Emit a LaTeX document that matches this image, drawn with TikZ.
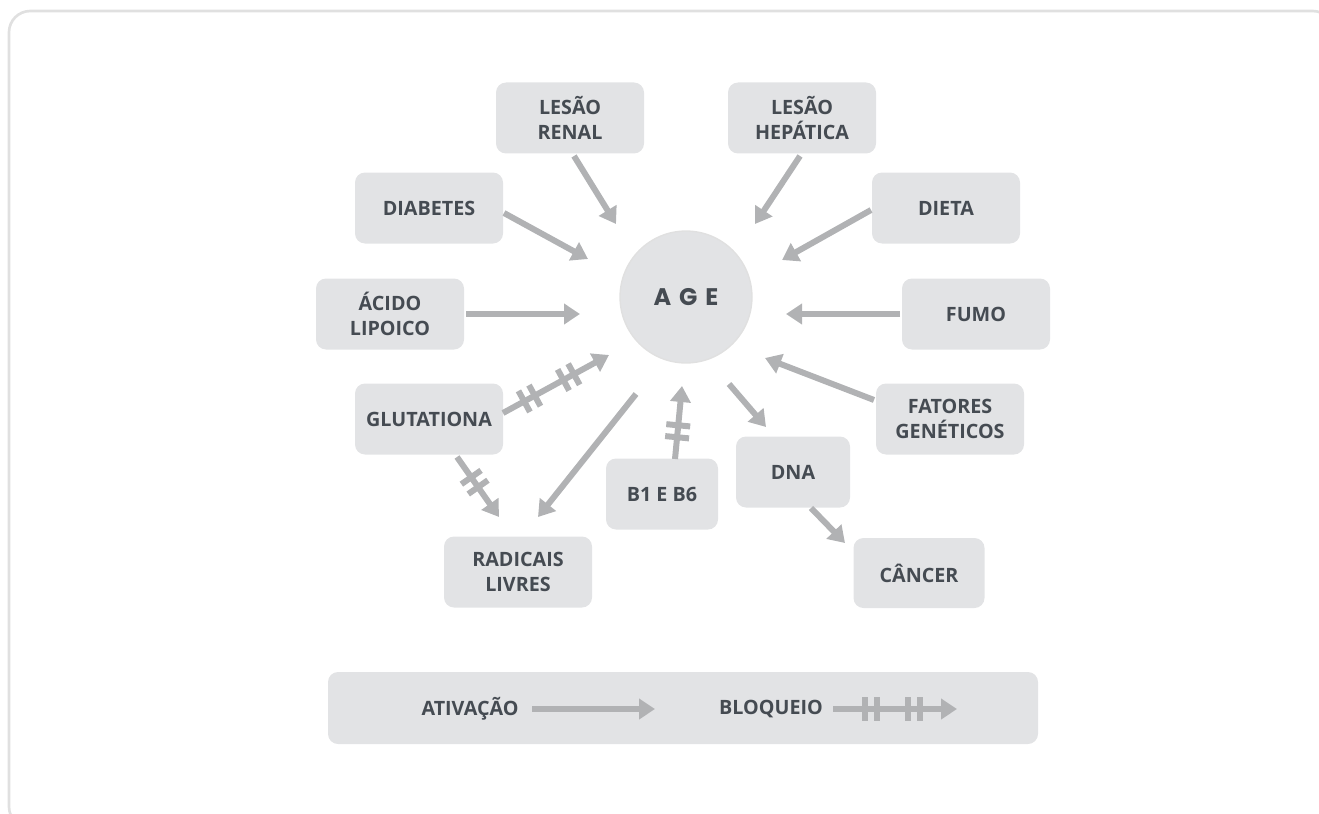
\documentclass[tikz,border=0pt]{standalone}
\usepackage{fontspec}
\setmainfont{Open Sans}
\newfontfamily\agefont{Poppins}
\usetikzlibrary{arrows.meta,decorations.markings,calc}
\definecolor{boxc}{HTML}{E2E3E5}
\definecolor{txtc}{HTML}{454B52}
\definecolor{arrc}{HTML}{B1B2B4}
\definecolor{framec}{HTML}{E0E0E0}
\begin{document}
\begin{tikzpicture}[x=0.75pt,y=-0.75pt,
  box/.style={fill=boxc, rounded corners=7.5pt, minimum width=111pt, minimum height=53.25pt,
    inner sep=0pt, align=center, font=\bfseries\fontsize{14.8}{19}\selectfont, text=txtc},
  act/.style={draw=arrc, line width=4.5pt, -{Triangle[length=12pt,width=15pt]}},
  barpair/.style={postaction={decorate,decoration={markings,
     mark=at position #1 with {\draw[arrc,line width=4.5pt,arrows=-] (-6,-12)--(-6,12) (6,-12)--(6,12);}}}},
  lgtext/.style={inner sep=0pt, font=\bfseries\fontsize{14.8}{19}\selectfont, text=txtc}
]
\useasboundingbox (0,0) rectangle (1319,813);
\begin{scope}
\clip (0,0) rectangle (1319,813);
\draw[framec, line width=2pt, rounded corners=16pt] (9,11) rectangle (1334,828);
\end{scope}

% centre
\node[circle, fill=boxc, draw=framec, line width=1pt, minimum size=99pt, inner sep=0pt,
  font=\agefont\bfseries\fontsize{18}{20}\selectfont, text=txtc] (age) at (686,297)
  {A\hspace{6pt}G\hspace{6pt}E};

% boxes
\node[box] (renal) at (570,118) {LESÃO\\RENAL};
\node[box] (hep) at (802,118) {LESÃO\\HEPÁTICA};
\node[box] (diab) at (429,208) {DIABETES};
\node[box] (dieta) at (946,208) {DIETA};
\node[box] (acido) at (390,314) {ÁCIDO\\LIPOICO};
\node[box] (fumo) at (976,314) {FUMO};
\node[box] (glut) at (429,419) {GLUTATIONA};
\node[box] (fat) at (950,419) {FATORES\\GENÉTICOS};
\node[box, minimum width=84pt] (b1) at (662,494) {B1 E B6};
\node[box, minimum width=85.5pt] (dna) at (793,472) {DNA};
\node[box] (rad) at (518,572) {RADICAIS\\LIVRES};
\node[box, minimum width=98.25pt, minimum height=52.5pt] (can) at (919,573) {CÂNCER};

% activation arrows
\draw[act] ($(renal)+(4,38)$) -- ($(age)+(-70,-73)$);
\draw[act] ($(hep)+(-2,38)$) -- ($(age)+(69,-73)$);
\draw[act] ($(diab)+(75,5)$) -- ($(age)+(-98,-38)$);
\draw[act] ($(dieta)+(-75,2)$) -- ($(age)+(96,-37)$);
\draw[act] ($(acido)+(76,0)$) -- ($(age)+(-106,17)$);
\draw[act] ($(fumo)+(-76,0)$) -- ($(age)+(100,17)$);
\draw[act] ($(fat)+(-76,-19)$) -- ($(age)+(79,61)$);
\draw[act] ($(age)+(-50,97)$) -- ($(rad)+(20,-55)$);
\draw[act] ($(age)+(43,87)$) -- ($(dna)+(-27,-45)$);
\draw[act] ($(dna)+(18,36)$) -- ($(can)+(-74,-30)$);

% blocking arrows
\draw[act, barpair=0.25, barpair=0.62] ($(glut)+(74,-6)$) -- ($(age)+(-77,58)$);
\draw[act, barpair=0.42] ($(glut)+(28,38)$) -- ($(rad)+(-19,-55)$);
\draw[act, barpair=0.38] ($(b1)+(13,-35)$) -- ($(age)+(-4,89)$);

% legend
\node[box, minimum width=532.5pt, minimum height=54pt] (legend) at (683,708) {};
\node[lgtext] (lga) at (470,709) {ATIVAÇÃO};
\node[lgtext] (lgb) at (771,709) {BLOQUEIO};
\coordinate (a1) at (532,709);
\coordinate (a2) at (655,709);
\coordinate (b1s) at (833,709);
\coordinate (b2s) at (957,709);
\draw[act] (a1) -- (a2);
\draw[act, barpair=0.31, barpair=0.65] (b1s) -- (b2s);
\end{tikzpicture}
\end{document}
